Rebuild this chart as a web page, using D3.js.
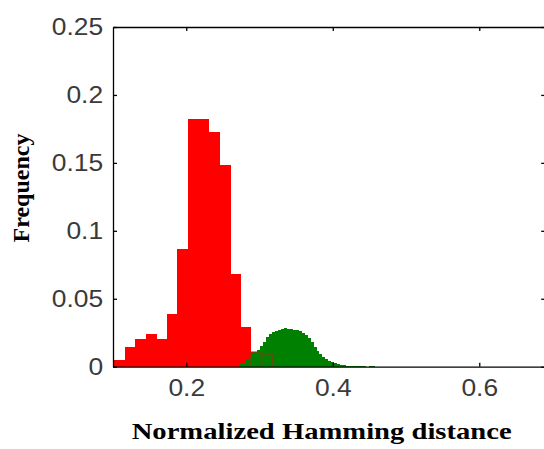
<!DOCTYPE html>
<html>
<head>
<meta charset="utf-8">
<script src="https://cdn.jsdelivr.net/npm/d3@7/dist/d3.min.js"></script>
<style>
  html, body { margin: 0; padding: 0; background: #fff; }
  svg { display: block; }
  .tick text { font-family: "Liberation Sans", Arial, sans-serif; font-size: 24px; fill: #3a3a3a; }
  .axis path, .axis line { stroke: #000; stroke-width: 1.3; }
  .title { font-family: "Liberation Serif", "Times New Roman", serif; font-weight: bold; fill: #000; }
  rect.red, rect.green { shape-rendering: crispEdges; }
</style>
</head>
<body>
<svg id="chart" width="544" height="449"></svg>
<script>
// red histogram: bin centres and frequencies
var redBins = [0.1085, 0.123, 0.1375, 0.152, 0.166, 0.1805, 0.195, 0.209, 0.2235, 0.238, 0.2525, 0.267, 0.281, 0.2955, 0.31];
var redFreq = [0.0049, 0.0147, 0.0202, 0.0239, 0.0202, 0.0388, 0.0867, 0.1824, 0.1824, 0.1726, 0.1485, 0.068, 0.029, 0.0108, 0.0095];
var redWidth = 0.0144;

// green histogram: fine bins starting at greenStart
var greenStart = 0.273, greenWidth = 0.004;
var greenFreq = [0.002, 0.003, 0.005, 0.007, 0.009, 0.011, 0.0125, 0.015, 0.018, 0.0215,
  0.0238, 0.0254, 0.0265, 0.0273, 0.028, 0.0284, 0.0281, 0.0276, 0.0271, 0.0267,
  0.0261, 0.025, 0.0232, 0.021, 0.018, 0.0142, 0.0115, 0.009, 0.0071, 0.0058,
  0.0045, 0.0035, 0.0025, 0.0018, 0.0014, 0.001, 0.0006, 0.0004, 0.0003, 0.0003,
  0.0002, 0.0003, 0.0002, 0.0001, 0.0003, 0.0002, 0.0001];

var xTicks = [0.2, 0.4, 0.6];
var yTicks = [0, 0.05, 0.1, 0.15, 0.2, 0.25];

var svg = d3.select("#chart");
var x = d3.scaleLinear().domain([0.1, 0.69]).range([113, 545.2]);
var y = d3.scaleLinear().domain([0, 0.25]).range([366.7, 27]);

var plot = svg.append("g");

var red = redBins.map(function (c, i) { return { x0: c - redWidth / 2, x1: c + redWidth / 2, v: redFreq[i] }; });
var green = greenFreq.map(function (v, i) {
  return { x0: greenStart + i * greenWidth, x1: greenStart + (i + 1) * greenWidth, v: v };
});

plot.selectAll("rect.red")
  .data(red)
  .enter()
  .append("rect")
  .attr("class", "red")
  .attr("x", d => x(d.x0))
  .attr("width", d => x(d.x1) - x(d.x0) + 0.6)
  .attr("y", d => y(d.v))
  .attr("height", d => y(0) - y(d.v))
  .attr("fill", "#ff0000");

plot.selectAll("rect.green")
  .data(green)
  .enter()
  .append("rect")
  .attr("class", "green")
  .attr("x", d => x(d.x0))
  .attr("width", d => x(d.x1) - x(d.x0) + 0.6)
  .attr("y", d => y(d.v))
  .attr("height", d => y(0) - y(d.v))
  .attr("fill", "#008000");

// edges of the red bars that sit under the green ones
plot.selectAll("path.edge")
  .data(red.filter(d => d.x0 > 0.28))
  .enter()
  .append("path")
  .attr("class", "edge")
  .attr("d", d => "M" + x(d.x0) + "," + y(0) + "V" + y(d.v) + "H" + x(d.x1) + "V" + y(0))
  .attr("fill", "none")
  .attr("stroke", "#8a3a10")
  .attr("stroke-width", 1.2);

// axes, ticks pointing inward
svg.append("g").attr("class", "axis")
  .attr("transform", "translate(0," + y(0) + ")")
  .call(d3.axisBottom(x).tickValues(xTicks).tickSize(-4).tickSizeOuter(0).tickPadding(12.6).tickFormat(d3.format(".1f")));
svg.append("g").attr("class", "axis")
  .attr("transform", "translate(0," + y(0.25) + ")")
  .call(d3.axisTop(x).tickValues(xTicks).tickSize(-4).tickSizeOuter(0).tickFormat(""));
svg.append("g").attr("class", "axis")
  .attr("transform", "translate(" + x(0.1) + ",0)")
  .call(d3.axisLeft(y).tickValues(yTicks).tickSize(-4).tickSizeOuter(0).tickPadding(9).tickFormat(d => d === 0 ? "0" : String(d)));
svg.append("g").attr("class", "axis")
  .attr("transform", "translate(" + x(0.69) + ",0)")
  .call(d3.axisRight(y).tickValues(yTicks).tickSize(-4).tickSizeOuter(0).tickFormat(""));

svg.selectAll(".tick text").attr("transform", "scale(1.1,1)");

svg.append("text")
  .attr("class", "title")
  .attr("transform", "translate(29,188) rotate(-90)")
  .attr("text-anchor", "middle")
  .style("font-size", "24px")
  .text("Frequency");

svg.append("text")
  .attr("class", "title")
  .attr("x", 321.7)
  .attr("y", 439)
  .attr("text-anchor", "middle")
  .attr("textLength", 380)
  .attr("lengthAdjust", "spacingAndGlyphs")
  .style("font-size", "23px")
  .text("Normalized Hamming distance");
</script>
</body>
</html>
